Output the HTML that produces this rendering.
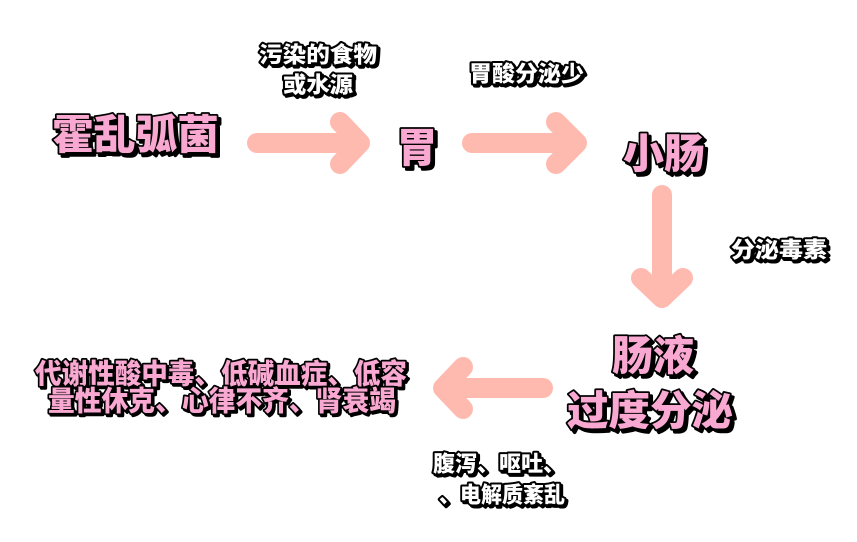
<!DOCTYPE html>
<html>
<head>
<meta charset="utf-8">
<style>
html,body{margin:0;padding:0;background:#ffffff;}
svg{display:block;}
text{font-family:"Liberation Sans","Noto Sans CJK SC","WenQuanYi Zen Hei",sans-serif;font-weight:900;dominant-baseline:central;}
.pk{fill:#f9a8d2;stroke:#000;stroke-width:3.5;paint-order:stroke fill;stroke-linejoin:round;}
.pks{fill:#000;stroke:#000;stroke-width:3.5;stroke-linejoin:round;}
.wt{fill:#fff;stroke:#000;stroke-width:4;paint-order:stroke fill;stroke-linejoin:round;}
.wts{fill:#000;stroke:#000;stroke-width:4;stroke-linejoin:round;}
.ar{fill:none;stroke:#ffbab0;stroke-width:20;stroke-linecap:round;stroke-linejoin:round;}
</style>
</head>
<body>
<svg width="857" height="542" viewBox="0 0 857 542" xmlns="http://www.w3.org/2000/svg">
<rect width="857" height="542" fill="#fff"/>

<!-- arrows -->
<path class="ar" d="M257 143 H360 M340 122 L360 143 L340 164"/>
<path class="ar" d="M472 143 H577 M556 122 L577 143 L556 164"/>
<path class="ar" d="M662 195 V298 M641 278 L662 298 L683 278"/>
<path class="ar" d="M543 388 H443 M463 367 L443 388 L463 409"/>

<!-- big pink labels -->
<g font-size="41">
<text class="pks" x="55" y="138" textLength="167" lengthAdjust="spacingAndGlyphs">霍乱弧菌</text>
<text class="pk" x="52" y="135" textLength="167" lengthAdjust="spacingAndGlyphs">霍乱弧菌</text>

<text class="pks" x="420" y="151" text-anchor="middle">胃</text>
<text class="pk" x="417" y="148" text-anchor="middle">胃</text>

<text class="pks" x="667" y="157" text-anchor="middle">小肠</text>
<text class="pk" x="664" y="154" text-anchor="middle">小肠</text>

<text class="pks" x="656" y="359" text-anchor="middle">肠液</text>
<text class="pk" x="653" y="356" text-anchor="middle">肠液</text>

<text class="pks" x="570" y="414" textLength="166" lengthAdjust="spacingAndGlyphs">过度分泌</text>
<text class="pk" x="567" y="411" textLength="166" lengthAdjust="spacingAndGlyphs">过度分泌</text>
</g>

<!-- bottom-left pink list -->
<g font-size="28">
<text class="pks" x="37" y="376" textLength="372" lengthAdjust="spacingAndGlyphs">代谢性酸中毒、低碱血症、低容</text>
<text class="pk" x="35" y="374" textLength="372" lengthAdjust="spacingAndGlyphs">代谢性酸中毒、低碱血症、低容</text>
<text class="pks" x="50" y="403" textLength="348" lengthAdjust="spacingAndGlyphs">量性休克、心律不齐、肾衰竭</text>
<text class="pk" x="48" y="401" textLength="348" lengthAdjust="spacingAndGlyphs">量性休克、心律不齐、肾衰竭</text>
</g>

<!-- small white labels -->
<g font-size="22">
<text class="wts" x="261" y="57" textLength="118" lengthAdjust="spacingAndGlyphs">污染的食物</text>
<text class="wt" x="259" y="55" textLength="118" lengthAdjust="spacingAndGlyphs">污染的食物</text>
<text class="wts" x="285" y="87" textLength="70" lengthAdjust="spacingAndGlyphs">或水源</text>
<text class="wt" x="283" y="85" textLength="70" lengthAdjust="spacingAndGlyphs">或水源</text>

<text class="wts" x="471" y="76" textLength="115" lengthAdjust="spacingAndGlyphs">胃酸分泌少</text>
<text class="wt" x="469" y="74" textLength="115" lengthAdjust="spacingAndGlyphs">胃酸分泌少</text>

<text class="wts" x="733" y="252" textLength="96" lengthAdjust="spacingAndGlyphs">分泌毒素</text>
<text class="wt" x="731" y="250" textLength="96" lengthAdjust="spacingAndGlyphs">分泌毒素</text>

<text class="wts" x="435" y="466" textLength="132" lengthAdjust="spacingAndGlyphs">腹泻、呕吐、</text>
<text class="wt" x="433" y="464" textLength="132" lengthAdjust="spacingAndGlyphs">腹泻、呕吐、</text>
<text class="wts" x="441" y="497" textLength="126" lengthAdjust="spacingAndGlyphs">、电解质紊乱</text>
<text class="wt" x="439" y="495" textLength="126" lengthAdjust="spacingAndGlyphs">、电解质紊乱</text>
</g>
</svg>
</body>
</html>
